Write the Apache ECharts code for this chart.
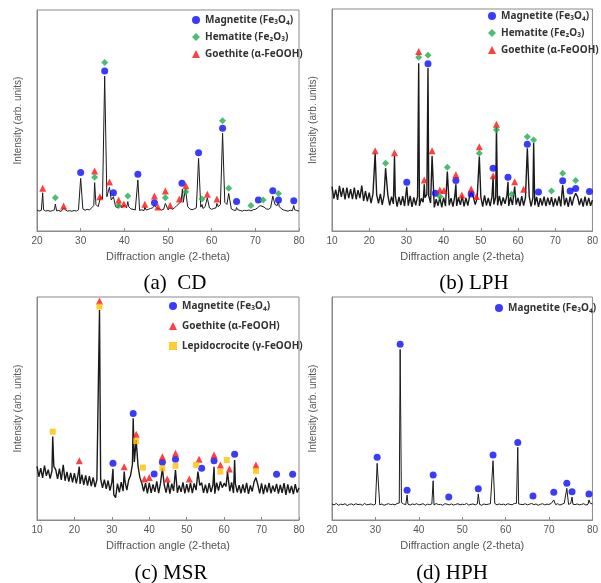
<!DOCTYPE html>
<html>
<head>
<meta charset="utf-8">
<script src="https://cdn.jsdelivr.net/npm/echarts@6/dist/echarts.min.js"></script>
<style>
  html, body { margin: 0; padding: 0; background: #fff; }
  #chart { width: 601px; height: 583px; }
</style>
</head>
<body>
<div id="chart"></div>
<script>
var myChart = echarts.init(document.getElementById('chart'));

// 基线取样间隔 (度)
var STEP = 0.5;

// (a) CD  —— 20°起
var baseA = [
  9.5, 9.0, 9.4, 9.6, 9.0, 9.3, 8.9, 9.2, 9.6, 9.1,
  9.3, 8.8, 9.2, 9.5, 9.0, 9.2, 8.9, 9.3, 9.0, 9.6,
  9.5, 10.0, 9.4, 9.8, 9.5, 10.5, 11.5, 12.0, 11.0, 13.0,
  14.5, 16.0, 15.5, 15.0, 14.0, 13.5, 11.0, 10.5, 11.5, 10.5,
  11.2, 10.5, 11.0, 10.0, 9.8, 9.5, 10.0, 9.3, 9.6, 9.2,
  9.5, 9.8, 10.2, 10.5, 9.8, 10.3, 10.0, 9.5, 9.8, 10.2,
  9.6, 10.2, 9.8, 10.5, 11.5, 12.5, 13.5, 13.0, 14.0, 11.0,
  10.0, 9.6, 10.0, 10.5, 11.0, 10.8, 10.2, 11.0, 11.5, 10.4,
  9.8, 10.2, 10.5, 11.0, 12.0, 12.5, 13.0, 12.0, 11.0, 10.0,
  9.5, 9.2, 9.6, 9.3, 9.0, 9.4, 9.2, 9.5, 9.1, 9.6,
  9.8, 10.5, 11.0, 11.5, 10.8, 10.0, 9.8, 10.5, 11.0, 12.0,
  11.5, 11.0, 10.0, 9.5, 9.2, 9.0, 9.4, 9.2, 9.6, 9.3,
  9.0
];
var peaksA = [[21.3,17.3],[24.2,12.2],[26.1,10.5],[30.0,23.8],[33.2,21.9],[34.6,15.5],[35.5,70.1],[36.6,19.8],
  [37.5,15.5],[38.7,12.0],[39.9,11.8],[40.8,13.3],[43.1,23.1],[44.7,10.8],[46.9,11.5],[47.7,10.6],[49.4,12.5],
  [50.5,10.5],[52.6,12.5],[53.3,19.0],[54.0,19.1],[57.0,32.9],[57.8,12.0],[59.0,15.0],[61.2,12.5],[62.5,44.2],
  [63.9,17.0],[65.7,10.6],[71.1,11.5],[74.0,15.8],[75.3,13.0],[78.8,11.5]];
var magA = [[30.0,26.5],[35.5,72.4],[37.5,17.3],[43.1,25.7],[46.9,12.8],[53.2,21.6],[57.0,35.4],[62.5,46.5],
  [65.7,13.3],[70.7,14.0],[74.0,18.2],[75.3,14.0],[78.8,13.7]];
var hemA = [[24.2,15.1],[33.2,24.3],[35.5,76.3],[38.7,11.5],[40.8,15.8],[49.4,15.1],[54.1,17.8],[57.8,14.5],
  [62.5,49.9],[63.9,19.3],[69.0,11.5],[71.8,14.0],[75.3,17.0]];
var goeA = [[21.3,19.3],[26.1,11.3],[33.2,27.1],[34.4,15.5],[36.6,22.2],[38.7,14.0],[39.9,12.2],[44.7,12.1],
  [46.9,15.8],[47.7,10.9],[49.4,18.1],[50.5,11.5],[52.6,14.5],[54.1,20.5],[59.0,16.6],[61.2,14.5]];

// (b) LPH —— 10°起
var baseB = [
  20.0, 14.6, 18.6, 14.0, 20.3, 15.4, 19.4, 14.2, 19.5, 14.8,
  18.9, 14.4, 19.6, 14.3, 18.4, 14.8, 20.5, 13.6, 18.0, 13.3,
  17.3, 12.6, 16.6, 11.9, 16.4, 12.4, 16.7, 11.8, 16.0, 12.3,
  16.3, 11.5, 15.5, 12.2, 16.1, 11.0, 15.4, 11.7, 15.7, 11.2,
  15.3, 11.4, 15.8, 10.9, 15.1, 11.6, 15.6, 11.3, 14.7, 13.0,
  15.0, 16.5, 15.8, 12.6, 14.0, 10.6, 14.3, 11.4, 15.2, 10.7,
  15.0, 11.2, 15.5, 11.6, 14.8, 11.0, 15.6, 11.3, 15.1, 11.8,
  15.7, 11.1, 14.9, 11.4, 15.8, 10.8, 15.2, 11.9, 14.7, 11.4,
  15.4, 11.0, 16.0, 11.5, 14.9, 11.2, 15.5, 12.0, 15.3, 11.6,
  15.8, 11.4, 15.1, 12.2, 15.9, 11.3, 15.3, 11.7, 15.5, 11.9,
  14.9, 11.2, 15.7, 11.4, 15.1, 11.8, 15.6, 11.1, 15.0, 11.6,
  15.4, 10.9, 14.8, 11.5, 15.5, 11.2, 15.0, 11.7, 15.2, 11.0,
  14.7, 11.4, 15.6, 11.1, 15.1, 11.6, 14.9, 10.9, 15.5, 11.5,
  15.0, 11.2, 15.4, 11.7, 14.7, 11.0, 15.5, 11.4, 14.9, 11.3,
  14.0
];
var peaksB = [[21.6,35.0],[24.4,28.3],[26.8,33.8],[30.1,20.0],[33.3,75.6],[34.8,21.0],[35.8,73.4],[36.9,33.8],
  [41.0,26.8],[43.3,21.0],[47.4,17.5],[49.6,33.5],[53.3,24.5],[54.2,46.6],[57.3,22.2],[59.1,20.0],[62.5,37.3],
  [64.2,39.6],[72.0,20.7],[75.5,17.0]];
var magB = [[30.1,22.0],[35.8,75.3],[37.8,17.0],[43.3,22.7],[47.4,16.7],[53.3,28.3],[57.3,24.2],[62.5,39.1],
  [65.5,17.6],[72.0,22.6],[74.0,18.0],[75.5,19.2],[79.2,17.8]];
var hemB = [[24.4,30.5],[33.3,78.3],[35.8,79.2],[39.0,15.5],[41.0,28.7],[49.6,35.0],[54.2,45.6],[58.3,16.5],
  [62.5,42.5],[64.2,41.0],[69.0,18.0],[72.0,26.0],[75.5,22.7]];
var goeB = [[21.6,36.2],[26.8,35.3],[33.3,80.9],[34.8,23.0],[36.9,36.1],[39.0,18.5],[40.1,18.2],[43.3,25.3],
  [44.9,16.2],[47.4,18.9],[48.8,15.5],[49.6,37.9],[53.3,24.9],[54.2,48.1],[59.1,22.2],[61.5,18.8]];

// (c) MSR —— 10°起
var baseC = [
  24.0, 19.4, 23.3, 18.9, 24.4, 19.8, 22.6, 18.6, 22.0, 24.0,
  22.6, 18.4, 23.0, 18.0, 22.3, 17.6, 21.6, 17.2, 21.1, 16.9,
  21.0, 16.4, 20.7, 16.2, 20.3, 15.8, 20.0, 15.4, 19.7, 15.2,
  19.1, 14.8, 18.0, 17.5, 18.5, 14.4, 18.1, 14.0, 17.7, 13.2,
  17.0, 11.4, 10.0, 16.3, 12.4, 17.0, 12.9, 17.5, 13.4, 18.0,
  20.0, 25.0, 26.0, 30.0, 24.0, 19.0, 16.5, 12.9, 16.5, 11.9,
  16.7, 12.2, 16.0, 12.6, 17.3, 12.0, 16.5, 12.9, 15.7, 12.3,
  17.0, 11.8, 16.3, 13.0, 16.7, 12.2, 15.5, 12.6, 16.9, 11.9,
  16.1, 12.4, 16.6, 12.1, 16.4, 13.4, 17.5, 15.5, 16.7, 12.2,
  15.9, 12.0, 16.5, 12.5, 15.7, 11.8, 16.8, 13.2, 17.3, 14.5,
  16.5, 15.0, 17.7, 12.9, 16.9, 12.1, 16.3, 12.4, 15.6, 12.0,
  16.0, 12.3, 16.7, 11.7, 15.5, 12.8, 17.1, 12.2, 15.8, 11.9,
  16.4, 11.6, 15.9, 12.4, 16.6, 12.0, 15.4, 12.6, 16.2, 11.8,
  15.7, 12.2, 16.5, 11.3, 16.0, 12.1, 15.3, 11.6, 16.1, 12.3,
  14.5
];
var peaksC = [[14.2,37.4],[17.0,24.7],[21.3,23.9],[26.7,94.2],[30.3,22.9],[33.3,21.7],[35.7,45.6],[36.5,35.9],
  [43.5,23.2],[47.0,22.4],[53.0,21.7],[57.3,23.9],[60.9,21.5],[62.8,26.9],[68.5,19.0]];
var magC = [[30.3,25.4],[35.7,47.8],[41.3,20.6],[43.5,25.9],[47.0,27.2],[54.0,23.2],[57.3,26.6],[62.8,29.5],
  [74.0,20.5],[78.3,20.5]];
var goeC = [[21.3,26.6],[26.7,98.2],[33.3,23.9],[36.5,38.4],[38.7,18.4],[40.0,19.1],[43.5,28.4],[44.8,18.4],
  [47.0,29.9],[50.7,18.4],[53.3,27.2],[57.3,29.1],[59.0,24.7],[61.4,22.9],[68.5,24.7]];
var lepC = [[14.2,39.6],[26.7,95.7],[36.5,35.4],[38.3,23.5],[43.5,23.2],[47.0,24.3],[52.5,24.7],[59.0,21.7],
  [60.7,26.9],[68.5,22.0]];

// (d) HPH —— 20°起
var baseD = [
  7.2, 6.8, 7.4, 6.6, 7.1, 6.9, 7.3, 6.5, 7.0, 7.2,
  6.7, 7.3, 6.9, 7.1, 6.6, 7.4, 6.8, 7.0, 7.2, 6.7,
  7.1, 7.3, 6.8, 7.2, 6.6, 7.0, 7.3, 6.9, 7.1, 6.8,
  7.4, 7.6, 7.8, 7.2, 6.9, 7.1, 6.7, 7.2, 6.9, 7.3,
  6.8, 7.0, 7.3, 6.6, 7.1, 6.9, 7.2, 6.7, 7.4, 6.9,
  7.0, 6.6, 7.3, 7.1, 6.8, 7.2, 6.7, 7.0, 7.3, 6.8,
  7.1, 6.9, 7.4, 6.7, 7.0, 7.2, 6.8, 7.3, 7.0, 6.6,
  7.2, 6.9, 7.1, 7.3, 7.0, 7.4, 6.8, 7.2, 6.9, 7.1,
  6.7, 7.3, 7.0, 6.8, 7.4, 7.5, 7.2, 7.0, 6.9, 7.3,
  6.8, 7.1, 7.4, 6.9, 7.2, 6.6, 7.0, 7.3, 6.8, 7.1,
  7.0, 7.4, 7.2, 6.9, 7.3, 6.7, 7.1, 7.5, 7.2, 7.0,
  7.4, 7.1, 6.9, 7.2, 6.8, 7.0, 7.3, 6.7, 7.1, 7.5,
  7.2
];
var peaksD = [[30.4,25.4],[35.7,76.5],[37.3,11.2],[43.3,17.6],[53.7,11.7],[57.1,26.6],[62.8,32.6],[66.3,8.0],
  [71.1,9.0],[74.1,14.2],[75.3,10.3],[79.2,9.0]];
var magD = [[30.4,28.1],[35.7,78.8],[37.3,13.3],[43.3,20.2],[46.9,10.3],[53.7,14.0],[57.1,29.1],[62.8,34.8],
  [66.3,10.8],[71.1,12.4],[74.1,16.5],[75.3,12.7],[79.2,11.7]];

var MAG = 'Magnetite (Fe\u2083O\u2084)';
var HEM = 'Hematite (Fe\u2082O\u2083)';
var GOE = 'Goethite (\u03b1-FeOOH)';
var LEP = 'Lepidocrocite (\u03b3-FeOOH)';

// 基线 + 峰顶 合并成一条谱线
function buildLine(start, base, peaks) {
    var pts = [];
    base.forEach(function (v, i) {
        var x = +(start + i * STEP).toFixed(2);
        var near = peaks.some(function (p) { return Math.abs(p[0] - x) < 0.15; });
        if (!near) pts.push([x, v]);
    });
    pts = pts.concat(peaks);
    pts.sort(function (a, b) { return a[0] - b[0]; });
    return pts;
}

var gridBox = [
    { left: 37, top: 10, width: 262, height: 221 },
    { left: 332, top: 9, width: 261, height: 222 },
    { left: 37, top: 297, width: 262, height: 223 },
    { left: 332, top: 297, width: 262, height: 223 }
];
var xMin = [20, 10, 10, 20];
var lineWidth = [1, 1.4, 1.4, 1];

var grids = [], xAxes = [], yAxes = [];
gridBox.forEach(function (g, i) {
    grids.push({ left: g.left, top: g.top, width: g.width, height: g.height, show: true, borderColor: '#8a8a8a', borderWidth: 1 });
    xAxes.push({
        gridIndex: i, type: 'value', min: xMin[i], max: 80, interval: 10,
        name: 'Diffraction angle (2-theta)', nameLocation: 'middle', nameGap: 20,
        nameTextStyle: { color: '#555', fontSize: 11, fontFamily: 'Liberation Sans' },
        axisLine: { lineStyle: { color: '#8a8a8a' } },
        axisTick: { inside: true, length: 3, lineStyle: { color: '#8a8a8a' } },
        axisLabel: { color: '#555', fontSize: 10, margin: 5, fontFamily: 'Liberation Sans' },
        splitLine: { show: false }
    });
    yAxes.push({
        gridIndex: i, type: 'value', min: 0, max: 100,
        name: 'Intensity (arb. units)', nameLocation: 'middle', nameGap: 14,
        nameTextStyle: { color: '#555', fontSize: 10, fontFamily: 'Liberation Sans' },
        axisLine: { show: true, lineStyle: { color: '#8a8a8a' } },
        axisTick: { show: false }, axisLabel: { show: false }, splitLine: { show: false }
    });
});

function lineSeries(idx, data) {
    return { type: 'line', xAxisIndex: idx, yAxisIndex: idx, data: data, showSymbol: false, symbol: 'none',
        lineStyle: { color: '#1a1a1a', width: lineWidth[idx] }, z: 2, silent: true };
}
var symMag = { symbol: 'circle', symbolSize: 7, itemStyle: { color: '#0a0aff' } };
var symHem = { symbol: 'diamond', symbolSize: 7, itemStyle: { color: '#1fae4e' } };
var symGoe = { symbol: 'triangle', symbolSize: 7, itemStyle: { color: '#ff1010' } };
var symLep = { symbol: 'rect', symbolSize: 6, itemStyle: { color: '#ffc000' } };
function dots(idx, name, data, sym) {
    return Object.assign({ type: 'scatter', name: name, xAxisIndex: idx, yAxisIndex: idx, data: data, z: 5 }, sym);
}

var legendText = { color: '#333', fontSize: 10, fontWeight: 'bold', fontFamily: 'Noto Sans' };
function legend(left, top, names, gap) {
    return { left: left, top: top, orient: 'vertical', data: names, itemGap: gap, itemWidth: 8, itemHeight: 8,
        padding: 0, selectedMode: false, textStyle: legendText };
}

option = {
    animation: false,
    grid: grids,
    xAxis: xAxes,
    yAxis: yAxes,
    legend: [
        legend(192, 15, [MAG, HEM, GOE], 7),
        legend(488, 11, [MAG, HEM, GOE], 7),
        legend(169, 301, [MAG, GOE, LEP], 10),
        legend(495, 303, [MAG], 5)
    ],
    graphic: [
        { type: 'text', x: 175, y: 283, style: { text: '(a)  CD', font: '21px "Liberation Serif"', fill: '#000', align: 'center', verticalAlign: 'middle' } },
        { type: 'text', x: 474, y: 283, style: { text: '(b) LPH', font: '21px "Liberation Serif"', fill: '#000', align: 'center', verticalAlign: 'middle' } },
        { type: 'text', x: 171, y: 573, style: { text: '(c) MSR', font: '21px "Liberation Serif"', fill: '#000', align: 'center', verticalAlign: 'middle' } },
        { type: 'text', x: 452, y: 573, style: { text: '(d) HPH', font: '21px "Liberation Serif"', fill: '#000', align: 'center', verticalAlign: 'middle' } }
    ],
    series: [
        lineSeries(0, buildLine(20, baseA, peaksA)),
        dots(0, MAG, magA, symMag), dots(0, HEM, hemA, symHem), dots(0, GOE, goeA, symGoe),
        lineSeries(1, buildLine(10, baseB, peaksB)),
        dots(1, MAG, magB, symMag), dots(1, HEM, hemB, symHem), dots(1, GOE, goeB, symGoe),
        lineSeries(2, buildLine(10, baseC, peaksC)),
        dots(2, MAG, magC, symMag), dots(2, GOE, goeC, symGoe), dots(2, LEP, lepC, symLep),
        lineSeries(3, buildLine(20, baseD, peaksD)),
        dots(3, MAG, magD, symMag)
    ]
};

myChart.setOption(option);
</script>
</body>
</html>
